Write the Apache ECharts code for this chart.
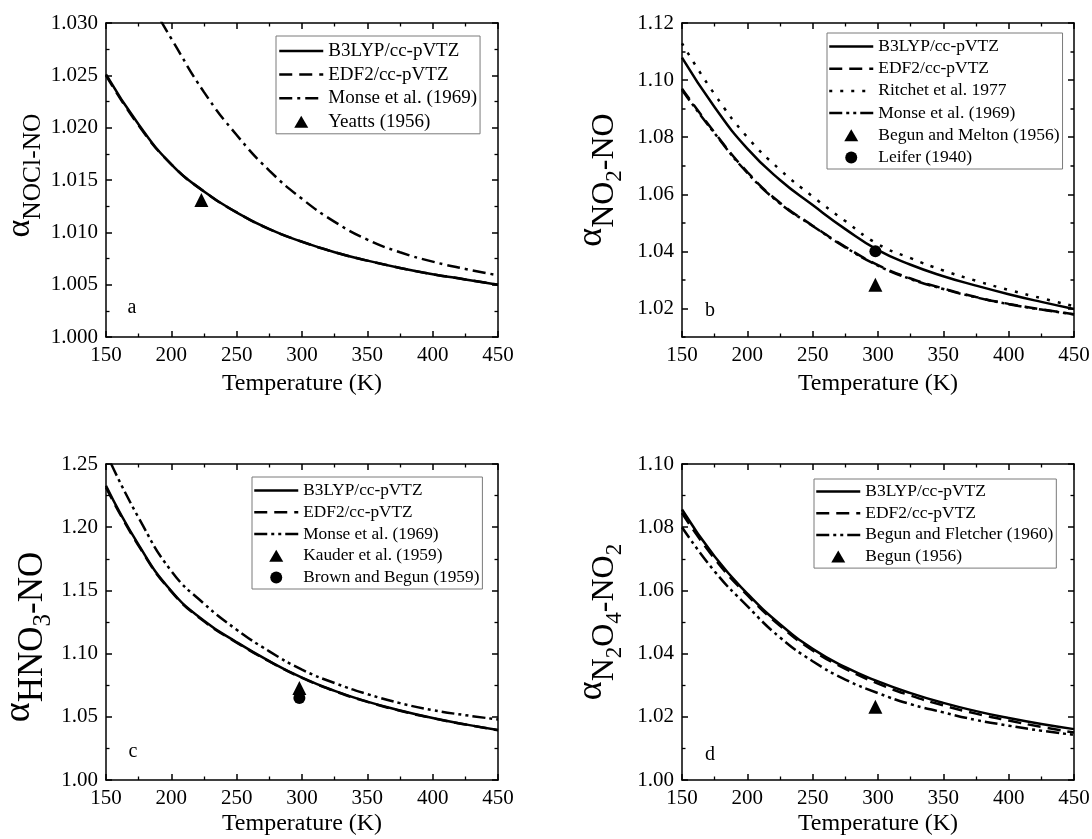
<!DOCTYPE html>
<html><head><meta charset="utf-8">
<script src="https://cdn.jsdelivr.net/npm/echarts@6/dist/echarts.min.js"></script>
<style>html,body{margin:0;padding:0;background:#fff}#c{width:1092px;height:839px}</style>
</head><body><div id="c"></div>
<script>
const SERIF = '"Liberation Serif","Times New Roman",serif';
const T = [150,175,200,225,250,275,300,325,350,375,400,425,450];

// (a) NOCl-NO
const aB3LYP = [1.0251,1.0203,1.0165,1.0139,1.0119,1.0103,1.0091,1.0081,1.0073,1.0066,1.0060,1.0055,1.0050];
const aEDF2  = [1.0250,1.0202,1.0165,1.0139,1.0119,1.0103,1.0091,1.0081,1.0073,1.0066,1.0060,1.0055,1.0050];
const aMonseT = [192,200,225,250,275,300,325,350,375,400,425,450];
const aMonse  = [1.0302,1.0285,1.0234,1.0193,1.0159,1.0132,1.0110,1.0093,1.0081,1.0072,1.0065,1.0059];
const aYeatts = [[223,1.0131]];

// (b) NO2-NO
const bB3LYP   = [1.1079,1.0905,1.0760,1.0650,1.0562,1.0478,1.0404,1.0353,1.0313,1.0280,1.0250,1.0223,1.0198];
const bEDF2    = [1.0970,1.0816,1.0678,1.0570,1.0490,1.0416,1.0352,1.0305,1.0270,1.0240,1.0216,1.0197,1.0180];
const bRitchet = [1.1129,1.0950,1.0800,1.0686,1.0592,1.0506,1.0425,1.0376,1.0333,1.0297,1.0265,1.0236,1.0208];
const bMonse   = [1.0965,1.0813,1.0675,1.0568,1.0489,1.0414,1.0350,1.0303,1.0268,1.0239,1.0215,1.0196,1.0179];
const bBegunMelton = [[298,1.0283]];
const bLeifer = [[298,1.0400]];

// (c) HNO3-NO
const cB3LYP = [1.2328,1.1860,1.1495,1.1260,1.1090,1.0940,1.0810,1.0705,1.0620,1.0550,1.0490,1.0440,1.0395];
const cEDF2  = [1.2315,1.1852,1.1490,1.1255,1.1087,1.0938,1.0808,1.0703,1.0618,1.0548,1.0489,1.0439,1.0394];
const cMonseT = [154,175,200,225,250,275,300,325,350,375,400,425,450];
const cMonse  = [1.2500,1.2074,1.1653,1.1395,1.1189,1.1018,1.0873,1.0767,1.0680,1.0608,1.0553,1.0513,1.0479];
const cKauder = [[298,1.0728]];
const cBrown  = [[298,1.0648]];

// (d) N2O4-NO2
const dB3LYP = [1.0856,1.0707,1.0590,1.0493,1.0415,1.0357,1.0312,1.0275,1.0244,1.0218,1.0196,1.0177,1.0161];
const dEDF2  = [1.0845,1.0700,1.0585,1.0488,1.0410,1.0352,1.0305,1.0267,1.0236,1.0210,1.0188,1.0168,1.0150];
const dFletcher = [1.0800,1.0660,1.0550,1.0451,1.0376,1.0318,1.0275,1.0240,1.0214,1.0190,1.0172,1.0156,1.0143];
const dBegun = [[298,1.0232]];

const DASH = [13,7];
const DASHDOT = [13,5,3,5];
const DASHDOTDOT = [13,4,3,4,3,4];
const DOT = [3,8];
const TRI = 'path://M0,12L7,0L14,12Z';
const CIRC = 'path://M12,6A6,6,0,1,1,0,6A6,6,0,1,1,12,6Z';

const grids = [
  {left:106, top:23, width:392, height:314, outerBoundsMode:'none', containLabel:false},
  {left:682, top:23, width:392, height:314, outerBoundsMode:'none', containLabel:false},
  {left:106, top:464, width:392, height:316, outerBoundsMode:'none', containLabel:false},
  {left:682, top:464, width:392, height:316, outerBoundsMode:'none', containLabel:false}
];

function richSet(sub, al){
  return {
    al:{fontFamily:SERIF, fontSize:al, color:'#000', verticalAlign:'bottom', padding:[0,0,Math.round(sub*0.5),0]},
    s:{fontFamily:SERIF, fontSize:sub, color:'#000', verticalAlign:'bottom', padding:[0,0,Math.round(sub*0.16),0]},
    ss:{fontFamily:SERIF, fontSize:Math.round(sub*0.72), color:'#000', verticalAlign:'bottom', padding:[0,0,0,0]}
  };
}

const yCfg = [
  {min:1.000, max:1.030, interval:0.005, dec:3, name:'{al|α}{s|NOCl-NO}', gap:56, sub:25.5, al:34, pad:[0,0,0,9]},
  {min:1.01, max:1.12, interval:0.01, dec:2, name:'{al|α}{s|NO}{ss|2}{s|-NO}', gap:56, sub:32, al:36, pad:[0,0,0,0], custom:true},
  {min:1.00, max:1.25, interval:0.05, dec:2, name:'{al|α}{s|HNO}{ss|3}{s|-NO}', gap:50, sub:35, al:38, pad:[0,30,0,0]},
  {min:1.00, max:1.10, interval:0.02, dec:2, name:'{al|α}{s|N}{ss|2}{s|O}{ss|4}{s|-NO}{ss|2}', gap:56, sub:32, al:36, pad:[0,0,0,0]}
];

const AXLINE = {show:true, lineStyle:{color:'#000', width:1.5}};
const xAxes = [], yAxes = [], yIdx = [];
grids.forEach((g,p)=>{
  const xb = {gridIndex:p, type:'value', min:150, max:450, interval:50, position:'bottom',
    axisLine:AXLINE, splitLine:{show:false},
    axisTick:{show:true, inside:true, length:6, lineStyle:{color:'#000', width:1.5}},
    minorTick:{show:true, splitNumber:2, length:3.5, lineStyle:{color:'#000', width:1.3}},
    axisLabel:{fontFamily:SERIF, fontSize:21, color:'#000', margin:8},
    name:'Temperature (K)', nameLocation:'middle', nameGap: p<2 ? 35 : 32,
    nameTextStyle:{fontFamily:SERIF, fontSize:24, color:'#000'}};
  const xt = Object.assign({}, xb, {position:'top', axisLabel:{show:false}, name:''});
  xAxes.push(xb, xt);
  const c = yCfg[p];
  const fmt = c.custom ? (v => (Math.round(v*100)%2===0 ? v.toFixed(2) : '')) : (v => v.toFixed(c.dec));
  const yl = {gridIndex:p, type:'value', min:c.min, max:c.max, interval:c.interval, position:'left',
    axisLine:AXLINE, splitLine:{show:false},
    axisTick:{show:true, inside:true, length: c.custom?3.5:6, lineStyle:{color:'#000', width:1.5}},
    minorTick:{show:!c.custom, splitNumber:2, length:3.5, lineStyle:{color:'#000', width:1.3}},
    axisLabel:{fontFamily:SERIF, fontSize:21, color:'#000', margin:8, formatter:fmt},
    name:c.name, nameLocation:'middle', nameGap:c.gap, nameRotate:90,
    nameTextStyle:{fontFamily:SERIF, color:'#000', padding:c.pad, rich:richSet(c.sub, c.al)}};
  yIdx.push(yAxes.length);
  yAxes.push(yl);
  const yr = Object.assign({}, yl, {position:'right', axisLabel:{show:false}, name:''});
  yAxes.push(yr);
  if (c.custom) {
    const ev = [];
    for (let k=2;k<=12;k+=2) ev.push(+(1+k/100).toFixed(2));
    ['left','right'].forEach(pos=>{
      yAxes.push({gridIndex:p, type:'value', min:c.min, max:c.max, interval:c.interval, position:pos,
        axisLine:{show:false}, splitLine:{show:false}, axisLabel:{show:false},
        axisTick:{show:true, inside:true, length:6, customValues:ev, lineStyle:{color:'#000', width:1.5}}});
    });
  }
});

function line(name, p, xs, ys, type){
  return {type:'line', name, xAxisIndex:p*2, yAxisIndex:yIdx[p],
    data: xs.map((x,i)=>[x, ys[i]]), showSymbol:false, symbol:'none',
    smooth:0.5, clip:true, silent:true, z:3,
    lineStyle:{color:'#000', width:2.5, type:type}, itemStyle:{color:'#000'}};
}
function pts(name, p, data, symbol, size){
  return {type:'scatter', name, xAxisIndex:p*2, yAxisIndex:yIdx[p], data,
    symbol, symbolSize:size, silent:true, z:5, itemStyle:{color:'#000', opacity:1}};
}

const series = [
  line('B3LYP/cc-pVTZ',0,T,aB3LYP,'solid'),
  line('EDF2/cc-pVTZ',0,T,aEDF2,DASH),
  line('Monse et al. (1969)',0,aMonseT,aMonse,DASHDOT),
  pts('Yeatts (1956)',0,aYeatts,'triangle',14),

  line('B3LYP/cc-pVTZ',1,T,bB3LYP,'solid'),
  line('EDF2/cc-pVTZ',1,T,bEDF2,DASH),
  line('Ritchet et al. 1977',1,T,bRitchet,DOT),
  line('Monse et al. (1969)',1,T,bMonse,DASHDOTDOT),
  pts('Begun and Melton (1956)',1,bBegunMelton,'triangle',14),
  pts('Leifer (1940)',1,bLeifer,'circle',12),

  line('B3LYP/cc-pVTZ',2,T,cB3LYP,'solid'),
  line('EDF2/cc-pVTZ',2,T,cEDF2,DASH),
  line('Monse et al. (1969)',2,cMonseT,cMonse,DASHDOTDOT),
  pts('Kauder et al. (1959)',2,cKauder,'triangle',14),
  pts('Brown and Begun (1959)',2,cBrown,'circle',12),

  line('B3LYP/cc-pVTZ',3,T,dB3LYP,'solid'),
  line('EDF2/cc-pVTZ',3,T,dEDF2,DASH),
  line('Begun and Fletcher (1960)',3,T,dFletcher,DASHDOTDOT),
  pts('Begun (1956)',3,dBegun,'triangle',14)
];

const HIDE = {color:'rgba(0,0,0,0)', borderWidth:0, opacity:0};
function L(name, type){ const o = {name, itemStyle:HIDE}; if (type) o.lineStyle = {type}; return o; }
function M(name, icon){ return {name, icon, itemStyle:{color:'#000', opacity:1}}; }

function legend(left, top, data, fs, lh, gap, pad){
  return {show:true, orient:'vertical', left, top, data, selectedMode:false,
    itemWidth:44, itemHeight:12, itemGap:gap, padding:pad,
    borderColor:'#7a7a7a', borderWidth:1, backgroundColor:'#fff',
    lineStyle:{width:2.5}, symbolKeepAspect:true,
    textStyle:{fontFamily:SERIF, fontSize:fs, lineHeight:lh, color:'#000'}};
}
const legends = [
  legend(276,36,[L('B3LYP/cc-pVTZ'),L('EDF2/cc-pVTZ'),L('Monse et al. (1969)'),M('Yeatts (1956)',TRI)],19,20,3.6,[5,3,2,2]),
  legend(827,33,[L('B3LYP/cc-pVTZ'),L('EDF2/cc-pVTZ'),L('Ritchet et al. 1977'),
    L('Monse et al. (1969)',DASHDOTDOT),M('Begun and Melton (1956)',TRI),M('Leifer (1940)',CIRC)],17.5,19,3.2,[4,3,2,1]),
  legend(252,477,[L('B3LYP/cc-pVTZ'),L('EDF2/cc-pVTZ'),
    L('Monse et al. (1969)',DASHDOTDOT),M('Kauder et al. (1959)',TRI),M('Brown and Begun (1959)',CIRC)],17.3,19,2.75,[4,3,2,1]),
  legend(814,479,[L('B3LYP/cc-pVTZ'),L('EDF2/cc-pVTZ'),L('Begun and Fletcher (1960)'),M('Begun (1956)',TRI)],17.5,19,2.7,[3,3,2,1])
];

const letters = [['a',132,308],['b',710,311],['c',133,752],['d',710,755]];
const graphic = letters.map(([t,x,y])=>({type:'text', x, y, silent:true,
  style:{text:t, font:'20px '+SERIF, fill:'#000', align:'center', verticalAlign:'middle', textAlign:'center', textVerticalAlign:'middle'}}));

const chart = echarts.init(document.getElementById('c'), null, {renderer:'canvas'});
chart.setOption({
  animation:false, backgroundColor:'#fff',
  grid: grids, xAxis: xAxes, yAxis: yAxes, series, legend: legends, graphic
});
</script></body></html>
